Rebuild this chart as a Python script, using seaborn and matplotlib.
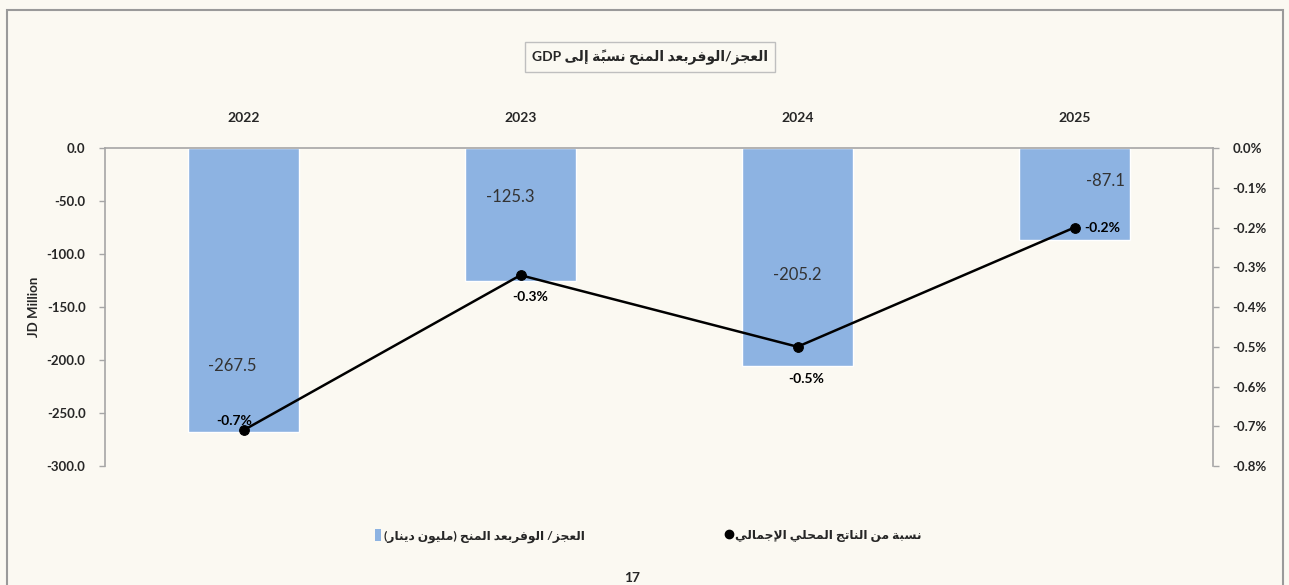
import numpy as np
import pandas as pd
import matplotlib
matplotlib.use("Agg")
import matplotlib.pyplot as plt
import matplotlib.ticker as mticker
from matplotlib.patches import Rectangle, Patch
from matplotlib.lines import Line2D
import seaborn as sns

# --- Data ---
years = ["2022", "2023", "2024", "2025"]
balance = [-267.5, -125.3, -205.2, -87.1]          # JD million
pct_gdp = [-0.71, -0.32, -0.50, -0.20]              # % of GDP

title_ar = "العجز/الوفربعد المنح نسبةً إلى GDP"
legend_bar_ar = "العجز/ الوفربعد المنح (مليون دينار)"
legend_line_ar = "نسبة من الناتج المحلي الإجمالي"
ylabel_left = "JD Million"

# --- tiny Arabic shaping (matplotlib draws glyphs left to right, no joining) ---
FORMS = {
    '\u0627': ('\uFE8D', '\uFE8E', None, None),
    '\u0625': ('\uFE87', '\uFE88', None, None),
    '\u0628': ('\uFE8F', '\uFE90', '\uFE91', '\uFE92'),
    '\u0629': ('\uFE93', '\uFE94', None, None),
    '\u062A': ('\uFE95', '\uFE96', '\uFE97', '\uFE98'),
    '\u062C': ('\uFE9D', '\uFE9E', '\uFE9F', '\uFEA0'),
    '\u062D': ('\uFEA1', '\uFEA2', '\uFEA3', '\uFEA4'),
    '\u062F': ('\uFEA9', '\uFEAA', None, None),
    '\u0631': ('\uFEAD', '\uFEAE', None, None),
    '\u0632': ('\uFEAF', '\uFEB0', None, None),
    '\u0633': ('\uFEB1', '\uFEB2', '\uFEB3', '\uFEB4'),
    '\u0639': ('\uFEC9', '\uFECA', '\uFECB', '\uFECC'),
    '\u0641': ('\uFED1', '\uFED2', '\uFED3', '\uFED4'),
    '\u0644': ('\uFEDD', '\uFEDE', '\uFEDF', '\uFEE0'),
    '\u0645': ('\uFEE1', '\uFEE2', '\uFEE3', '\uFEE4'),
    '\u0646': ('\uFEE5', '\uFEE6', '\uFEE7', '\uFEE8'),
    '\u0648': ('\uFEED', '\uFEEE', None, None),
    '\u0649': ('\uFEEF', '\uFEF0', None, None),
    '\u064A': ('\uFEF1', '\uFEF2', '\uFEF3', '\uFEF4'),
}
LAM_ALEF = {'\u0627': ('\uFEFB', '\uFEFC'), '\u0625': ('\uFEF9', '\uFEFA')}
MARKS = {'\u064B'}
MIRROR = {'(': ')', ')': '('}


def ar(text):
    chars = list(text)
    n = len(chars)
    out = []
    prev_joins = False
    i = 0
    while i < n:
        c = chars[i]
        if c in MARKS:
            if out:
                out[-1] += c
            i += 1
            continue
        if c not in FORMS:
            out.append(MIRROR.get(c, c))
            prev_joins = False
            i += 1
            continue
        j = i + 1
        while j < n and chars[j] in MARKS:
            j += 1
        nxt = chars[j] if j < n else None
        if c == '\u0644' and nxt in LAM_ALEF:
            out.append(LAM_ALEF[nxt][1 if prev_joins else 0])
            prev_joins = False
            i = j + 1
            continue
        f = FORMS[c]
        next_ok = nxt in FORMS and f[2] is not None
        if prev_joins and next_ok:
            g = f[3]
        elif prev_joins:
            g = f[1]
        elif next_ok:
            g = f[2]
        else:
            g = f[0]
        out.append(g)
        prev_joins = f[2] is not None
        i += 1
    out = out[::-1]
    # latin runs keep their own order
    res, run = [], []
    for cl in out:
        if cl.isascii() and cl.isalnum():
            run.append(cl)
        else:
            res.extend(run[::-1])
            run = []
            res.append(cl)
    res.extend(run[::-1])
    return "".join(res)


# --- Style ---
BG = "#FBF9F2"
BAR = "#8DB3E2"
GRID = "#A6A6A6"

sns.set_theme(style="white")
plt.rcParams["font.family"] = ["Lato", "DejaVu Sans"]
plt.rcParams["figure.facecolor"] = BG
plt.rcParams["axes.facecolor"] = "none"

fig = plt.figure(figsize=(12.89, 5.85), dpi=100)
ax = fig.add_axes([105 / 1289, 1 - 466 / 585, (1213 - 105) / 1289, 318 / 585])

df = pd.DataFrame({"year": years, "balance": balance, "pct": pct_gdp})

sns.barplot(data=df, x="year", y="balance", color=BAR, width=0.4,
            saturation=1, ax=ax)
ax.set_xlim(-0.5, 3.5)
ax.set_ylim(-300, 0)
ax.set_yticks(np.arange(-300, 1, 50))
ax.yaxis.set_major_formatter(mticker.FormatStrFormatter("%.1f"))
ax.xaxis.tick_top()
ax.tick_params(axis="x", length=0, pad=17, labelsize=10)
ax.tick_params(axis="y", length=4, width=1, color=GRID, direction="out",
               pad=10, labelsize=9.5, left=True)
for lbl in ax.get_xticklabels() + ax.get_yticklabels():
    lbl.set_fontweight("bold")
ax.set_xlabel("")
ax.set_ylabel(ylabel_left, fontsize=9.5, fontweight="bold", labelpad=5)
for side in ["bottom", "right"]:
    ax.spines[side].set_visible(False)
for side in ["top", "left"]:
    ax.spines[side].set_color(GRID)
    ax.spines[side].set_linewidth(1.2)

# bar value labels (hand placed like in the original)
label_pos = [(-0.04, -205.7), (-0.036, -46.2), (0.0, -119.8), (0.11, -31.1)]
for k, v in enumerate(balance):
    dx, yy = label_pos[k]
    ax.text(k + dx, yy, f"{v:.1f}", ha="center", va="center",
            fontsize=12, color="#333333")

# line on the secondary axis
ax2 = ax.twinx()
sns.lineplot(x=np.arange(len(years)), y=pct_gdp, color="black", linewidth=1.8,
             marker="o", markersize=7, markeredgecolor="black", ax=ax2)
ax2.set_xlim(-0.5, 3.5)
ax2.set_ylim(-0.8, 0)
ax2.set_yticks(np.arange(-0.8, 0.01, 0.1))
ax2.yaxis.set_major_formatter(
    mticker.FuncFormatter(lambda v, p: f"{round(v, 1) + 0.0:.1f}%"))
ax2.tick_params(axis="y", length=4, width=1, color=GRID, direction="out",
                pad=10, labelsize=9.5, right=True)
for lbl in ax2.get_yticklabels():
    lbl.set_fontweight("bold")
for side in ["top", "bottom", "left"]:
    ax2.spines[side].set_visible(False)
ax2.spines["right"].set_color(GRID)
ax2.spines["right"].set_linewidth(1.2)

pct_offsets = [(-6.5, 6.5), (7, -16), (6.5, -23), (20, 0)]
for k, v in enumerate(pct_gdp):
    ax2.annotate(f"{v:.1f}%", (k, v), xytext=pct_offsets[k],
                 textcoords="offset points", ha="center", va="center",
                 fontsize=10, fontweight="bold", color="black")

# title in a box
fig.text(0.5043, 1 - 57 / 585, ar(title_ar), ha="center", va="center",
         fontsize=10, fontweight="bold",
         bbox=dict(boxstyle="square,pad=0.5", facecolor=BG,
                   edgecolor="#BFBFBF", linewidth=1))

# legend
handles = [Patch(facecolor=BAR, edgecolor="none"),
           Line2D([], [], color="black", marker="o", linestyle="none",
                  markersize=6)]
leg = fig.legend(handles, [ar(legend_bar_ar), ar(legend_line_ar)],
                 loc="center", bbox_to_anchor=(0.503, 1 - 536 / 585),
                 ncol=2, frameon=False, handlelength=0.45, handleheight=1.1,
                 handletextpad=0.3, columnspacing=11.5, fontsize=8.8)
for t in leg.get_texts():
    t.set_fontweight("bold")

# page number at the bottom and outer border
fig.text(0.49, 0.002, "17", ha="center", va="bottom", fontsize=10,
         fontweight="bold")
fig.add_artist(Rectangle((7 / 1289, -0.1), (1283 - 7) / 1289,
                         1.1 - 10 / 585,
                         transform=fig.transFigure, fill=False,
                         edgecolor="#9A9A9A", linewidth=1.5))

fig.savefig("out.png", dpi=100, facecolor=BG)
